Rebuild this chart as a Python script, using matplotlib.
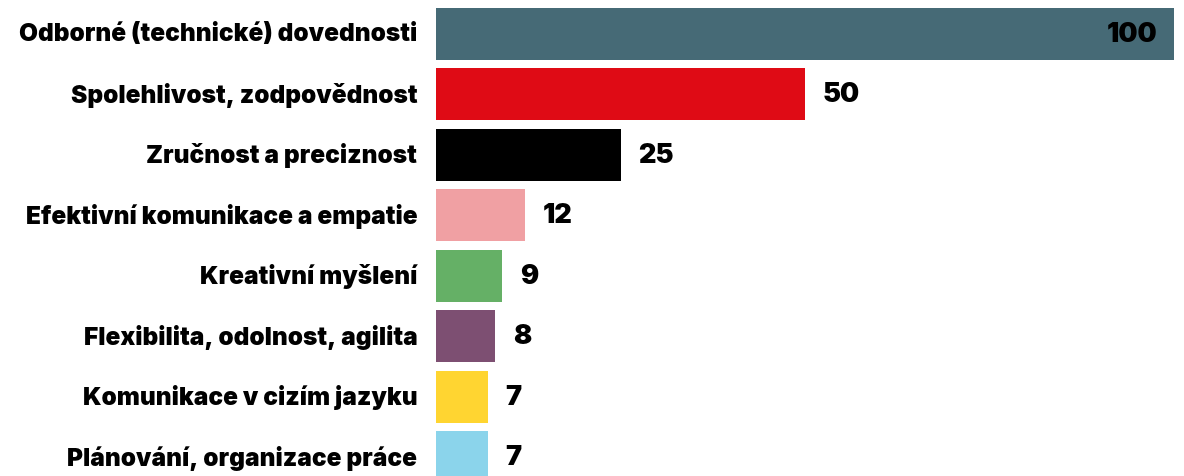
import matplotlib
matplotlib.use("Agg")
import matplotlib.pyplot as plt

categories = [
    "Odborné (technické) dovednosti",
    "Spolehlivost, zodpovědnost",
    "Zručnost a preciznost",
    "Efektivní komunikace a empatie",
    "Kreativní myšlení",
    "Flexibilita, odolnost, agilita",
    "Komunikace v cizím jazyku",
    "Plánování, organizace práce",
]
values = [100, 50, 25, 12, 9, 8, 7, 7]
colors = ["#466a76", "#df0b15", "#000000", "#f0a0a3",
          "#65b066", "#7d4f72", "#ffd531", "#8bd4eb"]

plt.rcParams["font.family"] = ["Inter", "DejaVu Sans"]

W, H = 1184, 477
fig = plt.figure(figsize=(W / 100, H / 100), dpi=100)
ax = fig.add_axes([436 / W, 0, 738 / W, 1])

px = 60.57
y = list(range(len(categories)))
ax.barh(y, values, height=52 / px, color=colors)
ax.set_xlim(0, 100)
top = -26 / px - 8.5 / px
ax.set_ylim(top + H / px, top)
ax.axis("off")

for i, (cat, v) in enumerate(zip(categories, values)):
    ax.annotate(cat, (0, i), xytext=(-13.5, 0), textcoords="offset points",
                ha="right", va="center", fontsize=17.6, fontweight=900,
                annotation_clip=False)
    if v >= 100:
        ax.annotate(str(v), (v, i), xytext=(-12, 0), textcoords="offset points",
                    ha="right", va="center", fontsize=19.5, fontweight=900)
    else:
        ax.annotate(str(v), (v, i), xytext=(13, 0), textcoords="offset points",
                    ha="left", va="center", fontsize=19.5, fontweight=900)

fig.savefig("out.png", dpi=100)
